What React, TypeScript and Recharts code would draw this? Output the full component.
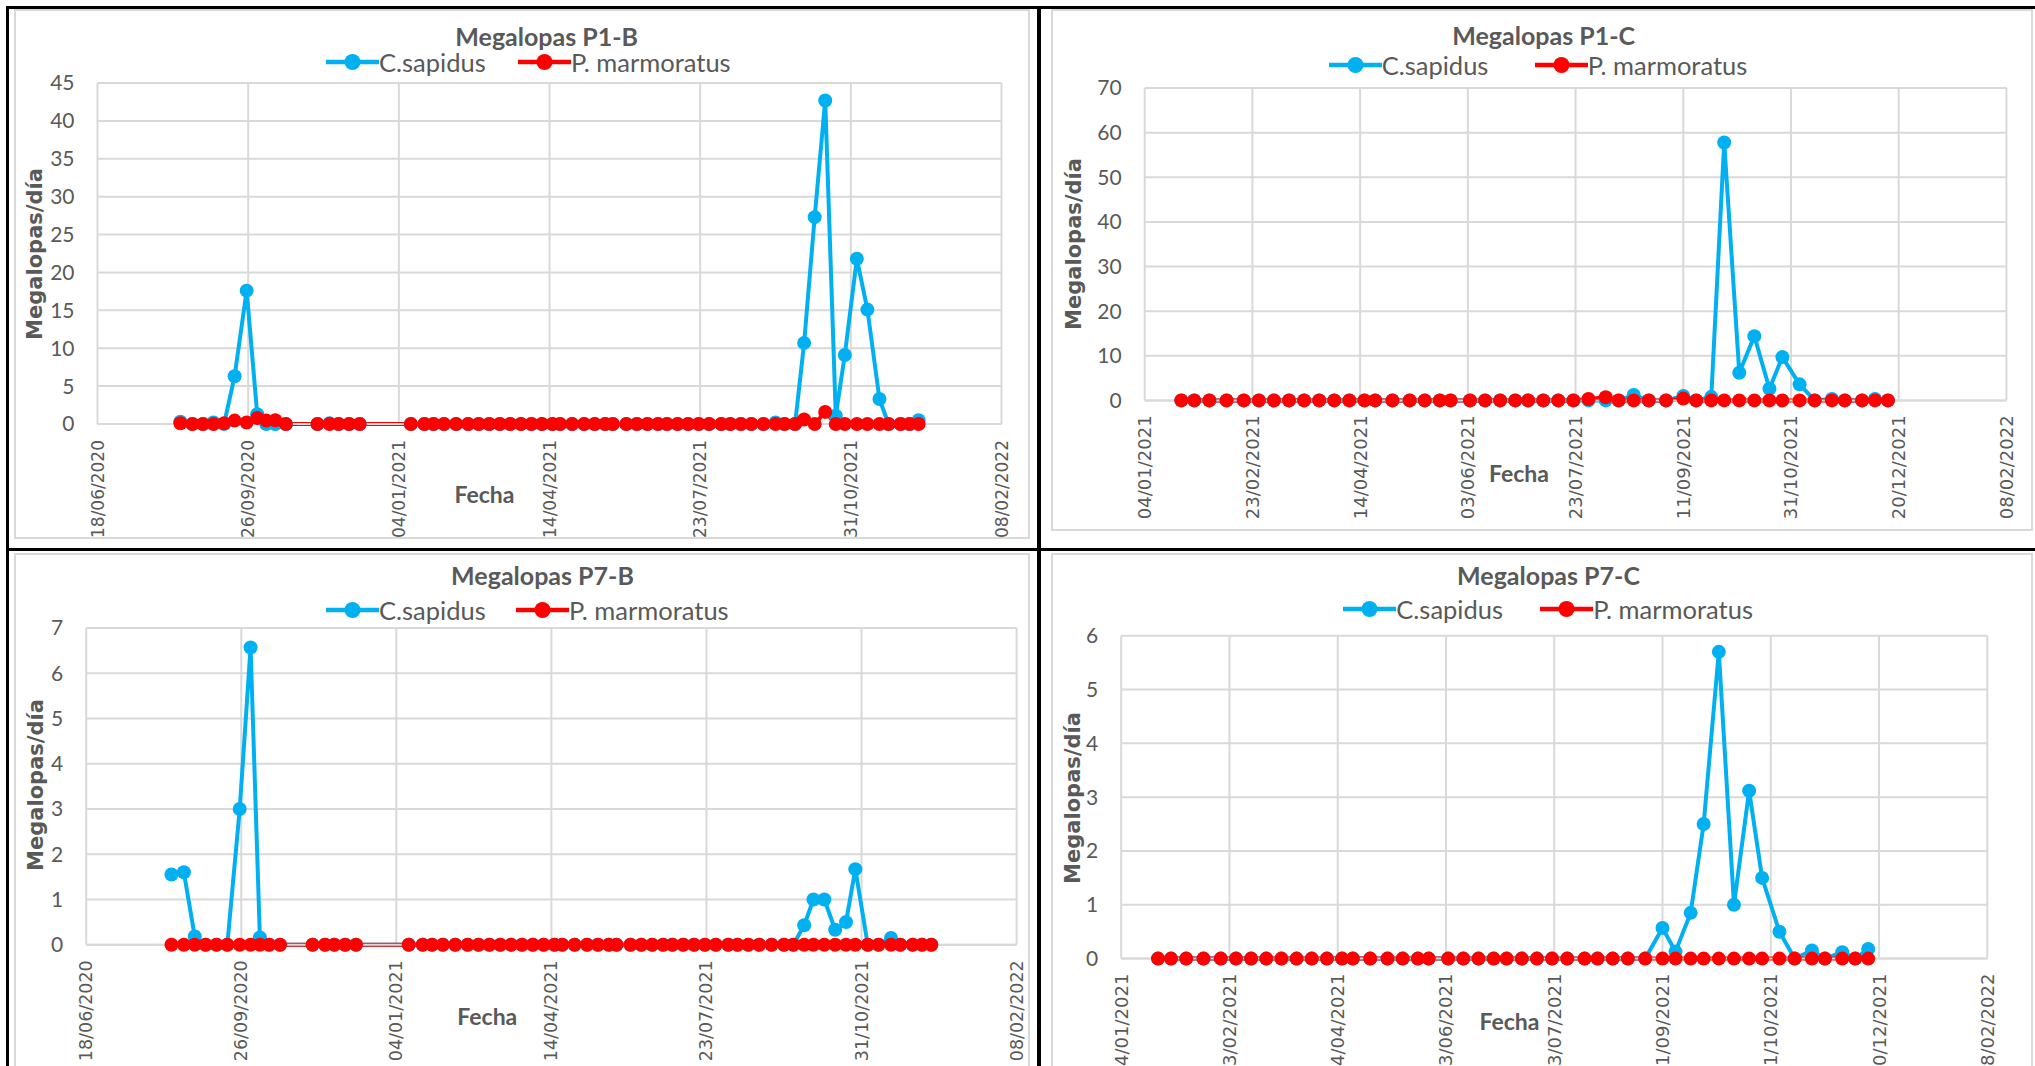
import React from "react";
import { LineChart, Line, XAxis, YAxis, CartesianGrid } from "recharts";

// fechas de muestreo (dd/mm/aaaa)
const datesB2020 = [
  "12/08/2020", "20/08/2020", "27/08/2020", "03/09/2020", "10/09/2020", "17/09/2020",
  "25/09/2020", "02/10/2020", "08/10/2020", "14/10/2020", "21/10/2020",
  "11/11/2020", "19/11/2020", "25/11/2020", "02/12/2020", "09/12/2020",
];
const datesBJan = ["12/01/2021"];
const datesC = [
  "21/01/2021", "27/01/2021", "03/02/2021", "11/02/2021", "19/02/2021", "26/02/2021",
  "05/03/2021", "12/03/2021", "19/03/2021", "26/03/2021", "02/04/2021", "09/04/2021",
  "16/04/2021", "21/04/2021", "29/04/2021", "07/05/2021", "14/05/2021", "21/05/2021",
  "26/05/2021", "04/06/2021", "11/06/2021", "18/06/2021", "25/06/2021", "01/07/2021",
  "08/07/2021", "15/07/2021", "22/07/2021", "29/07/2021", "06/08/2021", "12/08/2021",
  "19/08/2021", "26/08/2021", "03/09/2021", "11/09/2021", "17/09/2021", "24/09/2021",
  "30/09/2021", "07/10/2021", "14/10/2021", "21/10/2021", "27/10/2021", "04/11/2021",
  "11/11/2021", "19/11/2021", "25/11/2021", "03/12/2021", "09/12/2021", "15/12/2021",
];
const datesB = [...datesB2020, ...datesBJan, ...datesC];

// etiquetas de los ejes
const xLabelsB = ["18/06/2020", "26/09/2020", "04/01/2021", "14/04/2021", "23/07/2021", "31/10/2021", "08/02/2022"];
const xLabelsC = ["04/01/2021", "23/02/2021", "14/04/2021", "03/06/2021", "23/07/2021", "11/09/2021", "31/10/2021", "20/12/2021", "08/02/2022"];
const yTicksP1B = [0, 5, 10, 15, 20, 25, 30, 35, 40, 45];
const yTicksP1C = [0, 10, 20, 30, 40, 50, 60, 70];
const yTicksP7B = [0, 1, 2, 3, 4, 5, 6, 7];
const yTicksP7C = [0, 1, 2, 3, 4, 5, 6];

// P1-B
const p1bSapidus = [
  0.3, 0, 0, 0.2, 0, 6.3, 17.6, 1.3, 0, 0, 0,
  0, 0.1, 0, 0, 0,
  0,
  0, 0, 0, 0, 0, 0, 0, 0, 0, 0,
  0, 0, 0, 0, 0, 0, 0, 0, 0, 0,
  0, 0, 0, 0, 0, 0, 0, 0, 0, 0,
  0, 0, 0, 0.2, 0, 0, 10.7, 27.3, 42.7, 1.1,
  9.1, 21.8, 15.1, 3.3, 0, 0, 0, 0.5,
];
const p1bMarmoratus = [
  0.1, 0, 0, 0, 0.1, 0.45, 0.2, 0.8, 0.45, 0.5, 0,
  0, 0, 0, 0, 0,
  0,
  0, 0, 0, 0, 0, 0, 0, 0, 0, 0,
  0, 0, 0, 0, 0, 0, 0, 0, 0, 0,
  0, 0, 0, 0, 0, 0, 0, 0, 0, 0,
  0, 0, 0, 0, 0, 0, 0.6, 0, 1.6, 0,
  0, 0, 0, 0, 0, 0, 0, 0,
];

// P1-C
const p1cSapidus = [
  0, 0, 0, 0, 0, 0, 0, 0, 0, 0,
  0, 0, 0, 0, 0, 0, 0, 0, 0, 0,
  0, 0, 0, 0, 0, 0, 0, 0, 0, 0,
  1.2, 0, 0, 1.0, 0, 0.8, 57.8, 6.2, 14.4, 2.6,
  9.7, 3.6, 0, 0.3, 0, 0, 0.3, 0,
];
const p1cMarmoratus = [
  0, 0, 0, 0, 0, 0, 0, 0, 0, 0,
  0, 0, 0, 0, 0, 0, 0, 0, 0, 0,
  0, 0, 0, 0, 0, 0, 0, 0.3, 0.7, 0,
  0, 0, 0, 0.4, 0, 0, 0, 0, 0, 0,
  0, 0, 0, 0, 0, 0, 0, 0,
];

// P7-B
const p7bSapidus = [
  1.55, 1.6, 0.18, 0, 0, 0, 3.0, 6.57, 0.16, 0, 0,
  0, 0, 0, 0, 0,
  0,
  0, 0, 0, 0, 0, 0, 0, 0, 0, 0,
  0, 0, 0, 0, 0, 0, 0, 0, 0, 0,
  0, 0, 0, 0, 0, 0, 0, 0, 0, 0,
  0, 0, 0, 0, 0, 0.43, 1.0, 1.0, 0.33, 0.5,
  1.67, 0, 0, 0.15, 0, 0, 0, 0,
];
const p7bMarmoratus = [
  0, 0, 0, 0, 0, 0, 0, 0, 0, 0, 0,
  0, 0, 0, 0, 0,
  0,
  0, 0, 0, 0, 0, 0, 0, 0, 0, 0,
  0, 0, 0, 0, 0, 0, 0, 0, 0, 0,
  0, 0, 0, 0, 0, 0, 0, 0, 0, 0,
  0, 0, 0, 0, 0, 0, 0, 0, 0, 0,
  0, 0, 0, 0, 0, 0, 0, 0,
];

// P7-C
const p7cSapidus = [
  0, 0, 0, 0, 0, 0, 0, 0, 0, 0,
  0, 0, 0, 0, 0, 0, 0, 0, 0, 0,
  0, 0, 0, 0, 0, 0, 0, 0, 0, 0,
  0, 0, 0, 0.57, 0.13, 0.85, 2.5, 5.7, 1.0, 3.12,
  1.5, 0.5, 0, 0.15, 0, 0.12, 0, 0.18,
];
const p7cMarmoratus = [
  0, 0, 0, 0, 0, 0, 0, 0, 0, 0,
  0, 0, 0, 0, 0, 0, 0, 0, 0, 0,
  0, 0, 0, 0, 0, 0, 0, 0, 0, 0,
  0, 0, 0, 0, 0, 0, 0, 0, 0, 0,
  0, 0, 0, 0, 0, 0, 0, 0,
];

const BLUE = "#00B0F0";
const RED = "#FF0000";
const TXT = "#595959";
const GRID = "#D9D9D9";
const CAL = "Lato, 'Open Sans', sans-serif";
const VER = "'DejaVu Sans', Verdana, sans-serif";

const toDay = (s: string) => {
  const [d, m, y] = s.split("/").map(Number);
  return Date.UTC(y, m - 1, d) / 86400000;
};

const DateTick = (props: any) => {
  const { x, y, payload, labels, values, gap, size } = props;
  const i = values.indexOf(payload.value);
  const ty = y + gap;
  return (
    <text
      x={x}
      y={ty}
      transform={`rotate(-90 ${x} ${ty})`}
      textAnchor="end"
      dominantBaseline="central"
      fill={TXT}
      fontSize={size}
      fontFamily={VER}
    >
      {labels[i]}
    </text>
  );
};

const Marker = ({ color }: { color: string }) => (
  <svg width={53} height={20} style={{ display: "block", flex: "none" }}>
    <line x1={0} y1={10} x2={53} y2={10} stroke={color} strokeWidth={4.5} />
    <circle cx={26.5} cy={10} r={8} fill={color} />
  </svg>
);

type PanelCfg = {
  title: string;
  left: number; top: number; w: number; h: number;
  mTop: number; mRight: number; yAxisW: number; xAxisH: number; tickGap: number; tickSize: number;
  titleX: number; titleY: number;
  legX: number; legY: number; legItem: number;
  yLabX: number; yLabY: number;
  fechaX: number; fechaY: number;
  dates: string[]; sap: number[]; mar: number[];
  xLabels: string[]; yTicks: number[];
};

const Panel = ({ c }: { c: PanelCfg }) => {
  const rows = c.dates.map((d, i) => ({ x: toDay(d), sap: c.sap[i], mar: c.mar[i] }));
  const xTicks = c.xLabels.map(toDay);
  return (
    <div style={{ position: "absolute", left: c.left, top: c.top, width: c.w, height: c.h, overflow: "hidden", background: "#fff" }}>
      <LineChart width={c.w} height={c.h} data={rows} margin={{ top: c.mTop, right: c.mRight, bottom: 0, left: 0 }}>
        <CartesianGrid stroke={GRID} strokeWidth={2} />
        <XAxis
          dataKey="x"
          type="number"
          domain={[xTicks[0], xTicks[xTicks.length - 1]]}
          ticks={xTicks}
          interval={0}
          height={c.xAxisH}
          tickLine={false}
          tickSize={0}
          tickMargin={0}
          axisLine={{ stroke: GRID, strokeWidth: 2 }}
          tick={(t: any) => <DateTick {...t} labels={c.xLabels} values={xTicks} gap={c.tickGap} size={c.tickSize} />}
        />
        <YAxis
          type="number"
          domain={[0, c.yTicks[c.yTicks.length - 1]]}
          ticks={c.yTicks}
          interval={0}
          width={c.yAxisW}
          tickLine={false}
          axisLine={false}
          tickSize={0}
          tickMargin={23}
          tick={{ fill: TXT, fontSize: 21, fontFamily: CAL }}
        />
        <Line
          type="linear"
          dataKey="sap"
          name="C.sapidus"
          stroke={BLUE}
          strokeWidth={4}
          strokeLinejoin="round"
          dot={{ r: 7, fill: BLUE, stroke: BLUE, strokeWidth: 0 }}
          activeDot={false}
          isAnimationActive={false}
        />
        <Line
          type="linear"
          dataKey="mar"
          name="P. marmoratus"
          stroke={RED}
          strokeWidth={4}
          strokeLinejoin="round"
          dot={{ r: 7, fill: RED, stroke: RED, strokeWidth: 0 }}
          activeDot={false}
          isAnimationActive={false}
        />
      </LineChart>

      <div style={{ position: "absolute", left: c.titleX, top: c.titleY - 13.2, transform: "translateX(-50%)", fontFamily: CAL, fontWeight: 700, fontSize: 25, lineHeight: "25px", color: TXT, whiteSpace: "nowrap" }}>
        {c.title}
      </div>

      <div style={{ position: "absolute", left: c.legX, top: c.legY - 15, height: 30, display: "flex", alignItems: "center", fontFamily: CAL, fontSize: 25.5, color: TXT, whiteSpace: "nowrap" }}>
        <div style={{ width: c.legItem, display: "flex", alignItems: "center" }}>
          <Marker color={BLUE} />
          <span>C.sapidus</span>
        </div>
        <div style={{ display: "flex", alignItems: "center" }}>
          <Marker color={RED} />
          <span>P. marmoratus</span>
        </div>
      </div>

      <div style={{ position: "absolute", left: c.yLabX - 1.5, top: c.yLabY, transform: "translate(-50%, -50%) rotate(-90deg)", fontFamily: VER, fontWeight: 700, fontSize: 21, lineHeight: "21px", color: TXT, whiteSpace: "nowrap" }}>
        Megalopas/día
      </div>

      <div style={{ position: "absolute", left: c.fechaX, top: c.fechaY - 12.2, transform: "translateX(-50%)", fontFamily: CAL, fontWeight: 700, fontSize: 23, lineHeight: "23px", color: TXT, whiteSpace: "nowrap" }}>
        Fecha
      </div>

      <div style={{ position: "absolute", inset: 0, border: `2px solid ${GRID}`, pointerEvents: "none" }} />
    </div>
  );
};

const panels: PanelCfg[] = [
  {
    title: "Megalopas P1-B", left: 14, top: 9, w: 1016, h: 530,
    mTop: 74, mRight: 28.5, yAxisW: 83.5, xAxisH: 115, tickGap: 16, tickSize: 17,
    titleX: 532.7, titleY: 27.7, legX: 312, legY: 52.7, legItem: 192,
    yLabX: 22, yLabY: 244.5, fechaX: 470.5, fechaY: 486.6,
    dates: datesB, sap: p1bSapidus, mar: p1bMarmoratus, xLabels: xLabelsB, yTicks: yTicksP1B,
  },
  {
    title: "Megalopas P1-C", left: 1051, top: 9, w: 982, h: 522,
    mTop: 79, mRight: 26.6, yAxisW: 93.7, xAxisH: 130.6, tickGap: 15, tickSize: 18,
    titleX: 492.7, titleY: 27.5, legX: 277.7, legY: 56, legItem: 206,
    yLabX: 24.5, yLabY: 235, fechaX: 468, fechaY: 465.5,
    dates: datesC, sap: p1cSapidus, mar: p1cMarmoratus, xLabels: xLabelsC, yTicks: yTicksP1C,
  },
  {
    title: "Megalopas P7-B", left: 14, top: 553, w: 1016, h: 530,
    mTop: 75, mRight: 13.4, yAxisW: 72.2, xAxisH: 138.3, tickGap: 15.6, tickSize: 17.5,
    titleX: 528.5, titleY: 23.4, legX: 312, legY: 56.8, legItem: 190,
    yLabX: 23.1, yLabY: 231.7, fechaX: 473.3, fechaY: 463.8,
    dates: datesB, sap: p7bSapidus, mar: p7bMarmoratus, xLabels: xLabelsB, yTicks: yTicksP7B,
  },
  {
    title: "Megalopas P7-C", left: 1051, top: 553, w: 982, h: 530,
    mTop: 82.7, mRight: 45.7, yAxisW: 70.2, xAxisH: 124.4, tickGap: 15, tickSize: 18,
    titleX: 497.5, titleY: 23.5, legX: 292.3, legY: 55.8, legItem: 197,
    yLabX: 23.3, yLabY: 244.5, fechaX: 458.5, fechaY: 468.7,
    dates: datesC, sap: p7cSapidus, mar: p7cMarmoratus, xLabels: xLabelsC, yTicks: yTicksP7C,
  },
];

const line = (left: number, top: number, width: number, height: number) => (
  <div style={{ position: "absolute", left, top, width, height, background: "#000" }} />
);

export default function App() {
  return (
    <div style={{ position: "fixed", left: 0, top: 0, width: 2035, height: 1066, overflow: "hidden", background: "#fff" }}>
      {panels.map((c) => (
        <Panel key={c.title} c={c} />
      ))}
      {line(6, 6, 2029, 3)}
      {line(6, 6, 3, 1060)}
      {line(1037, 6, 4, 1060)}
      {line(6, 548, 2029, 3)}
    </div>
  );
}
